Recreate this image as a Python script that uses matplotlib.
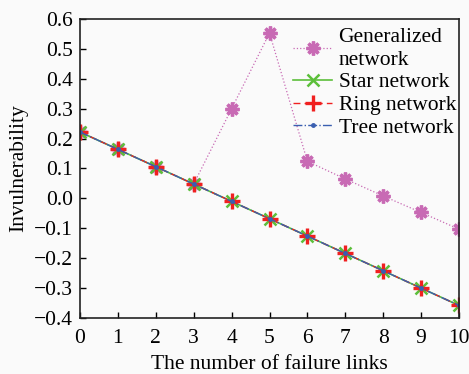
import matplotlib.pyplot as plt

plt.rcParams['font.family'] = ['Liberation Serif', 'DejaVu Serif']

failures = list(range(11))
generalized = [0.222, 0.164, 0.106, 0.048, 0.30, 0.553, 0.124, 0.065, 0.008, -0.047, -0.103]
star = [0.222, 0.164, 0.106, 0.048, -0.010, -0.068, -0.126, -0.184, -0.242, -0.300, -0.358]
ring = [0.222, 0.164, 0.106, 0.048, -0.010, -0.068, -0.126, -0.184, -0.242, -0.300, -0.358]
tree = [0.222, 0.164, 0.106, 0.048, -0.010, -0.068, -0.126, -0.184, -0.242, -0.300, -0.358]
yticks = [0.6, 0.5, 0.4, 0.3, 0.2, 0.1, 0.0, -0.1, -0.2, -0.3, -0.4]

fs = 15.5

fig = plt.figure(figsize=(4.69, 3.74), dpi=100, facecolor='#fafafa')
ax = fig.add_axes([80 / 469, 1 - 318 / 374, 379 / 469, 299 / 374])
ax.set_facecolor('#fafafa')

ax.plot(failures, generalized, color='#c86ab4', linestyle=':', linewidth=0.9,
        marker=(8, 2, 0), markersize=10, markeredgewidth=2.4, label='Generalized\nnetwork')
ax.plot(failures, star, color='#5cbf3a', linestyle='-', linewidth=1.2,
        marker='x', markersize=8, markeredgewidth=1.8, label='Star network')
ax.plot(failures, ring, color='#f02020', linestyle=(0, (5, 3)), linewidth=1.0,
        marker='+', markersize=11, markeredgewidth=2.4, label='Ring network')
ax.plot(failures, tree, color='#3a5fb0', linestyle='-.', linewidth=1.0,
        marker='.', markersize=5, label='Tree network')

ax.set_xlim(0, 10)
ax.set_ylim(-0.4, 0.6)
ax.set_xticks(failures)
ax.set_yticks(yticks)
ax.set_yticklabels(['%.1f' % v if v >= 0 else '\u2212%.1f' % -v for v in yticks])
ax.tick_params(direction='in', length=4, labelsize=fs, width=1, pad=5,
               top=False, right=False)
ax.tick_params(axis='x', pad=8)
for s in ax.spines.values():
    s.set_linewidth(1.2)
    s.set_color('#222222')

ax.set_xlabel('The number of failure links', fontsize=fs, labelpad=5)
ax.set_ylabel('Invulnerability', fontsize=fs, labelpad=4)

leg = ax.legend(loc='upper right', frameon=False, fontsize=fs, handlelength=1.8,
                handletextpad=0.3, labelspacing=0.12, borderaxespad=0.0,
                bbox_to_anchor=(1.015, 1.0))
for t in leg.get_texts():
    t.set_linespacing(1.3)

fig.savefig('out.png', dpi=100, facecolor=fig.get_facecolor())
